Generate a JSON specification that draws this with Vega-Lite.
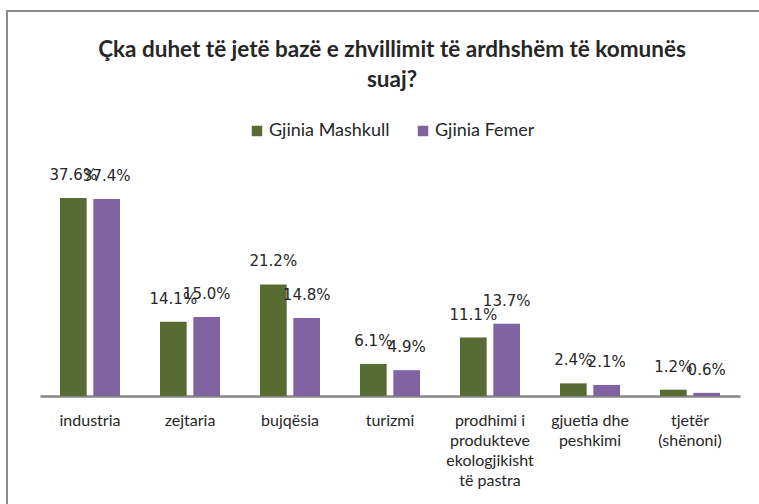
{
  "$schema": "https://vega.github.io/schema/vega-lite/v6.json",
  "autosize": {"type": "none"},
  "padding": {"left": 7, "top": 11, "right": 0, "bottom": 0},
  "width": 770,
  "height": 510,
  "background": "white",
  "config": {
    "view": {"stroke": "#8a8a8a", "strokeWidth": 2},
    "font": "Lato"
  },
  "title": {
    "text": ["Çka duhet të jetë bazë e zhvillimit të ardhshëm të komunës", "suaj?"],
    "anchor": "middle",
    "frame": "group",
    "offset": -80,
    "font": "Lato",
    "fontSize": 22.5,
    "fontWeight": "bold",
    "color": "#262626",
    "lineHeight": 30
  },
  "data": {
    "values": [
      {"kategoria": "industria", "gjinia": "Gjinia Mashkull", "vlera": 0.376},
      {"kategoria": "industria", "gjinia": "Gjinia Femer", "vlera": 0.374},
      {"kategoria": "zejtaria", "gjinia": "Gjinia Mashkull", "vlera": 0.141},
      {"kategoria": "zejtaria", "gjinia": "Gjinia Femer", "vlera": 0.150},
      {"kategoria": "bujqësia", "gjinia": "Gjinia Mashkull", "vlera": 0.212},
      {"kategoria": "bujqësia", "gjinia": "Gjinia Femer", "vlera": 0.148},
      {"kategoria": "turizmi", "gjinia": "Gjinia Mashkull", "vlera": 0.061},
      {"kategoria": "turizmi", "gjinia": "Gjinia Femer", "vlera": 0.049},
      {"kategoria": "prodhimi i produkteve ekologjikisht të pastra", "gjinia": "Gjinia Mashkull", "vlera": 0.111},
      {"kategoria": "prodhimi i produkteve ekologjikisht të pastra", "gjinia": "Gjinia Femer", "vlera": 0.137},
      {"kategoria": "gjuetia dhe peshkimi", "gjinia": "Gjinia Mashkull", "vlera": 0.024},
      {"kategoria": "gjuetia dhe peshkimi", "gjinia": "Gjinia Femer", "vlera": 0.021},
      {"kategoria": "tjetër (shënoni)", "gjinia": "Gjinia Mashkull", "vlera": 0.012},
      {"kategoria": "tjetër (shënoni)", "gjinia": "Gjinia Femer", "vlera": 0.006}
    ]
  },
  "encoding": {
    "x": {
      "field": "kategoria",
      "type": "nominal",
      "sort": null,
      "scale": {"range": [33, 733], "paddingInner": 0.4, "paddingOuter": 0.2},
      "axis": {
        "title": null,
        "orient": "bottom",
        "offset": -125,
        "labelAngle": 0,
        "ticks": false,
        "domainColor": "#868686",
        "domainWidth": 2.5,
        "labelFont": "Lato",
        "labelFontSize": 16,
        "labelColor": "#262626",
        "labelPadding": 16,
        "labelLineHeight": 20,
        "labelBaseline": "top",
        "labelExpr": "datum.label == 'prodhimi i produkteve ekologjikisht të pastra' ? ['prodhimi i', 'produkteve', 'ekologjikisht', 'të pastra'] : datum.label == 'gjuetia dhe peshkimi' ? ['gjuetia dhe', 'peshkimi'] : datum.label == 'tjetër (shënoni)' ? ['tjetër', '(shënoni)'] : datum.label"
      }
    },
    "xOffset": {
      "field": "gjinia",
      "type": "nominal",
      "sort": ["Gjinia Mashkull", "Gjinia Femer"],
      "scale": {"paddingInner": 0.2, "paddingOuter": 0}
    },
    "y": {
      "field": "vlera",
      "type": "quantitative",
      "scale": {"domain": [0, 0.4], "range": [385, 174.4], "nice": false},
      "axis": null
    }
  },
  "layer": [
    {
      "mark": {"type": "bar"},
      "encoding": {
        "color": {
          "field": "gjinia",
          "type": "nominal",
          "sort": ["Gjinia Mashkull", "Gjinia Femer"],
          "scale": {"domain": ["Gjinia Mashkull", "Gjinia Femer"], "range": ["#586b32", "#8064a2"]},
          "legend": {
            "title": null,
            "orient": "none",
            "direction": "horizontal",
            "legendX": 241,
            "legendY": 111,
            "symbolType": "square",
            "symbolSize": 110,
            "symbolStrokeWidth": 0,
            "labelFont": "Lato",
            "labelFontSize": 18,
            "labelColor": "#262626",
            "columnPadding": 24,
            "labelOffset": 3
          }
        }
      }
    },
    {
      "mark": {"type": "text", "baseline": "bottom", "dy": -15, "font": "DejaVu Sans", "fontSize": 15, "color": "#262626"},
      "encoding": {
        "text": {"field": "vlera", "type": "quantitative", "format": ".1%"}
      }
    }
  ]
}
